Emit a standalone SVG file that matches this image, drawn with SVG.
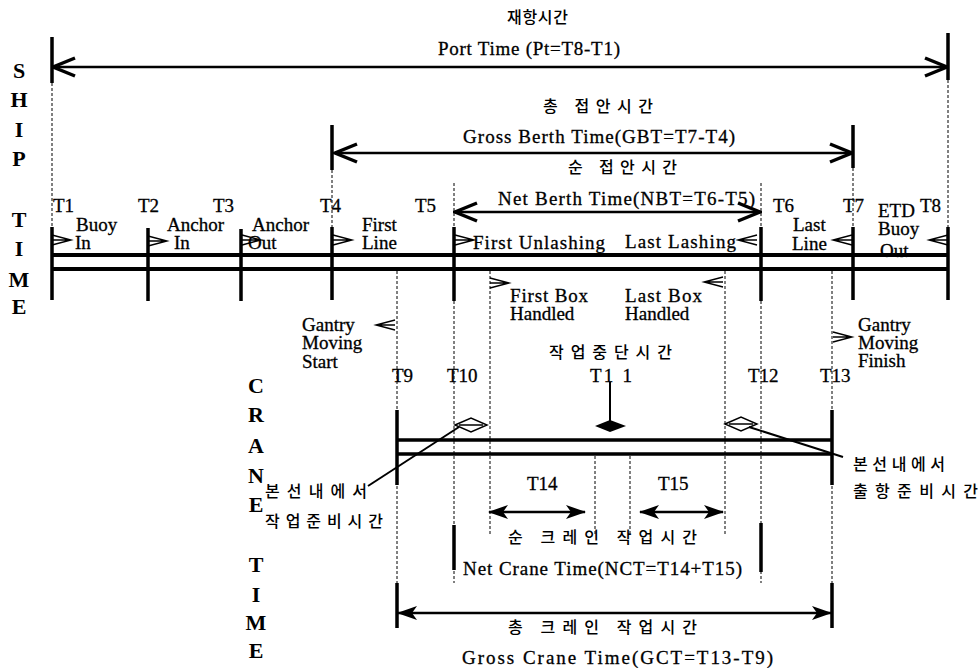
<svg xmlns="http://www.w3.org/2000/svg" xmlns:xlink="http://www.w3.org/1999/xlink" width="979" height="668" viewBox="0 0 979 668">
<style>
.t{font-family:"Liberation Serif","Times New Roman",serif;font-size:19px;fill:#000;stroke:#000;stroke-width:0.3}
.ax{font-family:"Liberation Serif","Times New Roman",serif;font-size:22px;font-weight:bold;fill:#000;text-anchor:middle}
.k{font-family:"Noto Sans CJK KR","Noto Sans",sans-serif;font-size:16px;font-weight:500;fill:#000}
.tick{stroke:#000;stroke-width:3.5;fill:none}
.rail{stroke:#000;stroke-width:4;fill:none}
.dash{stroke:#000;stroke-width:1;stroke-dasharray:3 2;fill:none}
.arr{stroke:#000;stroke-width:2.5;fill:none}
.chev{stroke:#000;stroke-width:1.4;fill:none}
.lead{stroke:#000;stroke-width:2;fill:none}
</style>
<defs>
<marker id="openHead" viewBox="0 0 26 24" refX="24" refY="12" markerWidth="26" markerHeight="24" markerUnits="userSpaceOnUse" orient="auto-start-reverse">
<path d="M2,3 L24,12 L2,21" fill="none" stroke="#000" stroke-width="3.5"/>
</marker>
<marker id="fillHead" viewBox="0 0 20 16" refX="19" refY="8" markerWidth="20" markerHeight="16" markerUnits="userSpaceOnUse" orient="auto-start-reverse">
<path d="M0,1 L20,8 L0,15 L5,8 Z" fill="#000"/>
</marker>
<path id="chevR" class="chev" d="M0,-5 L19,0 L0,5 M0,0 L17,0"/>
<path id="chevL" class="chev" d="M19,-5 L0,0 L19,5 M19,0 L2,0"/>
</defs>
<rect width="979" height="668" fill="#fff"/>

<g id="axis-ship">
<text class="ax" x="19" y="78">S</text>
<text class="ax" x="19" y="107">H</text>
<text class="ax" x="19" y="137">I</text>
<text class="ax" x="19" y="166">P</text>
<text class="ax" x="19" y="227">T</text>
<text class="ax" x="19" y="256">I</text>
<text class="ax" x="19" y="287">M</text>
<text class="ax" x="19" y="314">E</text>
</g>
<g id="axis-crane">
<text class="ax" x="256" y="393">C</text>
<text class="ax" x="256" y="422">R</text>
<text class="ax" x="256" y="453">A</text>
<text class="ax" x="256" y="483">N</text>
<text class="ax" x="256" y="512">E</text>
<text class="ax" x="256" y="572">T</text>
<text class="ax" x="256" y="602">I</text>
<text class="ax" x="256" y="630">M</text>
<text class="ax" x="256" y="658">E</text>
</g>

<g id="port-time">
<text class="k" x="507" y="23" textLength="61" lengthAdjust="spacing">재항시간</text>
<text class="t" x="438" y="55" textLength="182" lengthAdjust="spacing">Port Time (Pt=T8-T1)</text>
</g>
<g id="gross-berth-time">
<text class="k" x="543" y="112" textLength="110" lengthAdjust="spacing">총 접안시간</text>
<text class="t" x="463" y="143" textLength="272" lengthAdjust="spacing">Gross Berth Time(GBT=T7-T4)</text>
</g>
<g id="net-berth-time">
<text class="k" x="568" y="173" textLength="109" lengthAdjust="spacing">순 접안시간</text>
<text class="t" x="498" y="205" textLength="257" lengthAdjust="spacing">Net Berth Time(NBT=T6-T5)</text>
</g>

<g id="ship-events">
<g id="t1"><text class="t" x="53" y="212">T1</text><text class="t" x="76" y="231">Buoy</text><text class="t" x="75" y="249">In</text></g>
<g id="t2"><text class="t" x="138" y="212">T2</text><text class="t" x="167" y="231">Anchor</text><text class="t" x="174" y="249">In</text></g>
<g id="t3"><text class="t" x="213" y="212">T3</text><text class="t" x="252" y="231">Anchor</text><text class="t" x="248" y="249">Out</text></g>
<g id="t4"><text class="t" x="320" y="212">T4</text><text class="t" x="362" y="231">First</text><text class="t" x="362" y="249">Line</text></g>
<g id="t5"><text class="t" x="415" y="212">T5</text><text class="t" x="473" y="249" textLength="132" lengthAdjust="spacing">First Unlashing</text></g>
<g id="t6"><text class="t" x="773" y="212">T6</text><text class="t" x="625" y="248" textLength="111" lengthAdjust="spacing">Last Lashing</text></g>
<g id="t7"><text class="t" x="843" y="212">T7</text><text class="t" x="793" y="231">Last</text><text class="t" x="792" y="250">Line</text></g>
<g id="t8"><text class="t" x="878" y="217">ETD</text><text class="t" x="920" y="212">T8</text><text class="t" x="878" y="235">Buoy</text><text class="t" x="880" y="257">Out</text></g>
</g>

<g id="box-events">
<g id="first-box"><text class="t" x="510" y="302" textLength="78" lengthAdjust="spacing">First Box</text><text class="t" x="510" y="320">Handled</text></g>
<g id="last-box"><text class="t" x="625" y="302" textLength="77" lengthAdjust="spacing">Last Box</text><text class="t" x="625" y="320">Handled</text></g>
<g id="gantry-start"><text class="t" x="302" y="331">Gantry</text><text class="t" x="302" y="349">Moving</text><text class="t" x="302" y="368">Start</text></g>
<g id="gantry-finish"><text class="t" x="858" y="331">Gantry</text><text class="t" x="858" y="349">Moving</text><text class="t" x="858" y="367">Finish</text></g>
</g>

<g id="crane-events">
<g id="t11"><text class="k" x="549" y="358" textLength="123" lengthAdjust="spacing">작업중단시간</text><text class="t" x="590" y="382" textLength="42" lengthAdjust="spacing">T1 1</text></g>
<g id="t9"><text class="t" x="392" y="382">T9</text></g>
<g id="t10"><text class="t" x="447" y="382">T10</text></g>
<g id="t12"><text class="t" x="748" y="382">T12</text></g>
<g id="t13"><text class="t" x="820" y="382">T13</text></g>
<g id="t14"><text class="t" x="527" y="490">T14</text></g>
<g id="t15"><text class="t" x="658" y="490">T15</text></g>
<g id="prep-in"><text class="k" x="265" y="497" textLength="102" lengthAdjust="spacing">본선내에서</text><text class="k" x="265" y="527" textLength="118" lengthAdjust="spacing">작업준비시간</text></g>
<g id="prep-out"><text class="k" x="853" y="470" textLength="92" lengthAdjust="spacing">본선내에서</text><text class="k" x="853" y="497" textLength="125" lengthAdjust="spacing">출항준비시간</text></g>
<g id="net-crane-time"><text class="k" x="508" y="543" textLength="189" lengthAdjust="spacing">순 크레인 작업시간</text><text class="t" x="463" y="575" textLength="279" lengthAdjust="spacing">Net Crane Time(NCT=T14+T15)</text></g>
<g id="gross-crane-time"><text class="k" x="508" y="633" textLength="189" lengthAdjust="spacing">총 크레인 작업시간</text><text class="t" x="462" y="664" textLength="311" lengthAdjust="spacing">Gross Crane Time(GCT=T13-T9)</text></g>
</g>

<g id="connectors">
<path class="tick" d="M52,37 V83 M948,33 V80 M332,125 V170 M853,125 V168"/>
<path class="dash" d="M52,83 V227 M948,80 V227 M332,170 V227 M853,168 V227 M454,183 V227 M761,183 V227"/>
<path class="tick" d="M52,227 V300 M148,228 V301 M241,229 V301 M332,227 V300 M454,227 V301 M761,227 V301 M853,227 V300 M948,227 V300"/>
<path class="dash" d="M454,301 V583 M761,301 V583 M397,271 V583 M832,271 V583 M490,271 V535 M725,271 V535 M595,456 V535 M630,456 V535"/>
<path class="tick" d="M397,410 V485 M397,583 V628 M832,410 V485 M832,583 V628 M454,525 V570 M761,523 V572"/>
<path class="rail" d="M52,255 H948 M52,269 H948"/>
<path class="tick" d="M397,440 H832 M397,454 H832"/>
<line class="arr" x1="53" y1="67" x2="947" y2="67" marker-start="url(#openHead)" marker-end="url(#openHead)"/>
<line class="arr" x1="335" y1="153" x2="852" y2="153" marker-start="url(#openHead)" marker-end="url(#openHead)"/>
<line class="arr" x1="455" y1="212" x2="760" y2="212" marker-start="url(#openHead)" marker-end="url(#openHead)"/>
<line class="arr" x1="489" y1="512" x2="585" y2="512" marker-start="url(#fillHead)" marker-end="url(#fillHead)"/>
<line class="arr" x1="640" y1="512" x2="723" y2="512" marker-start="url(#fillHead)" marker-end="url(#fillHead)"/>
<line class="arr" x1="398" y1="613" x2="831" y2="613" marker-start="url(#fillHead)" marker-end="url(#fillHead)"/>
<use xlink:href="#chevR" x="52" y="240"/>
<use xlink:href="#chevR" x="148" y="241"/>
<use xlink:href="#chevR" x="242" y="240"/>
<use xlink:href="#chevR" x="333" y="240"/>
<use xlink:href="#chevR" x="455" y="240"/>
<use xlink:href="#chevR" x="490" y="283"/>
<use xlink:href="#chevR" x="833" y="337"/>
<use xlink:href="#chevL" x="738" y="240"/>
<use xlink:href="#chevL" x="833" y="240"/>
<use xlink:href="#chevL" x="929" y="240"/>
<use xlink:href="#chevL" x="704" y="282"/>
<use xlink:href="#chevL" x="376" y="325"/>
<line class="lead" x1="610" y1="382" x2="610" y2="421"/>
<path d="M595,426 L610,420 L626,426 L610,432 Z" fill="#000"/>
<path d="M455,425 L471,418 L487,425 L471,432 Z M459,425 H483" fill="#fff" stroke="#000" stroke-width="1.5"/>
<path d="M725,424 L741,417 L757,424 L741,431 Z M729,424 H753" fill="#fff" stroke="#000" stroke-width="1.5"/>
<line class="lead" x1="368" y1="486" x2="459" y2="427"/>
<line class="lead" x1="749" y1="427" x2="843" y2="457"/>
</g>
</svg>
